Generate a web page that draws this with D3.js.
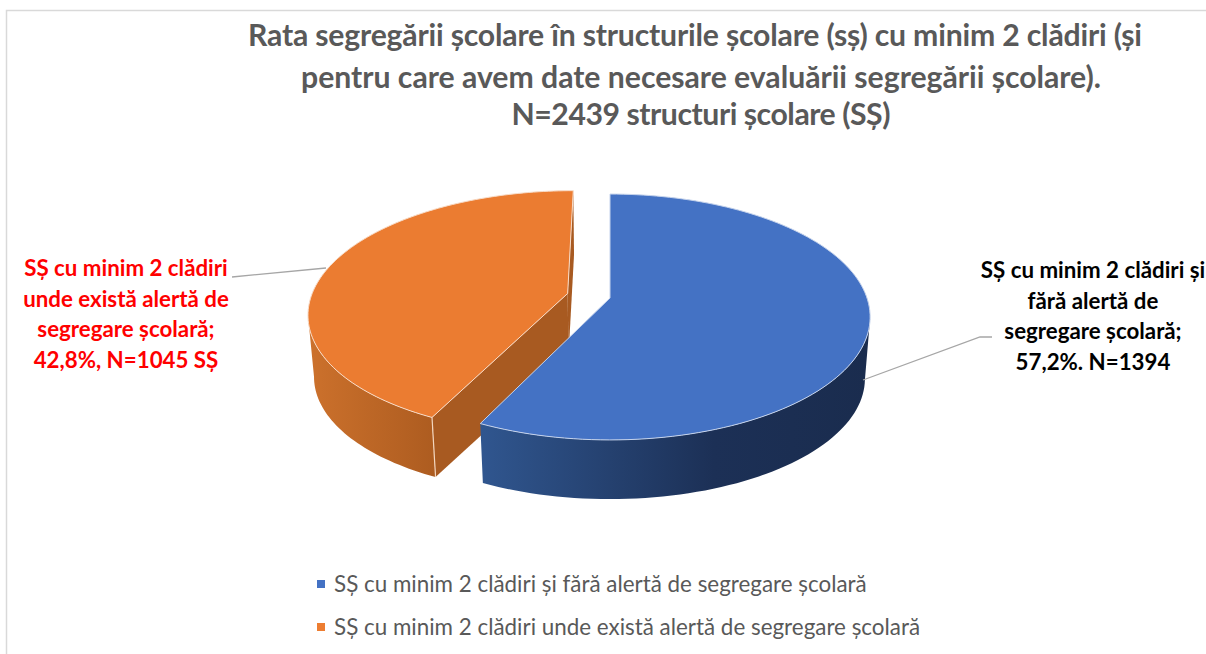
<!DOCTYPE html>
<html lang="ro">
<head>
<meta charset="UTF-8">
<title>Rata segregării școlare</title>
<script src="https://d3js.org/d3.v7.min.js"></script>
<style>
  body, html { margin: 0; padding: 0; width: 100%; height: 100%; overflow: hidden; background: #fff; }
  svg { display: block; }
  text { font-family: Lato, "Open Sans", sans-serif; }
  .title { font-size: 30.2px; font-weight: 700; fill: #595959; text-anchor: middle; }
  .label { font-size: 22.3px; font-weight: 700; text-anchor: middle; }
  .legend { font-size: 22.4px; fill: #595959; }
</style>
</head>
<body>
<svg></svg>
<script>
const width = 1206, height = 654;

const categories = [
  "SȘ cu minim 2 clădiri și fără alertă de segregare școlară",
  "SȘ cu minim 2 clădiri unde există alertă de segregare școlară"
];
const counts = [1394, 1045];
const explode = [0, 0.17];
const topColors = ["#4472c4", "#eb7c31"];
const legendColors = ["#4472c4", "#ed7d31"];
const cutColors = ["#203864", "#a85a21"];
const wallStops = [
  [["0%", "#30568f"], ["60%", "#1c3056"], ["100%", "#1a2c4e"]],
  [["0%", "#cc712c"], ["100%", "#ad5c20"]]
];
const titleLines = [
  "Rata segregării școlare în structurile școlare (sș) cu minim 2 clădiri (și",
  "pentru care avem date necesare evaluării segregării școlare).",
  "N=2439 structuri școlare (SȘ)"
];
const titleWidths = [894, 800, 379];
const labelLines = [
  ["SȘ cu minim 2 clădiri și", "fără alertă de", "segregare școlară;", "57,2%. N=1394"],
  ["SȘ cu minim 2 clădiri", "unde există alertă de", "segregare școlară;", "42,8%, N=1045 SȘ"]
];

const svg = d3.select("svg").attr("width", width).attr("height", height);
const defs = svg.append("defs");

// chart frame, only left and top show in the crop
svg.append("path")
  .attr("d", "M6.5,654V10.5H1206")
  .attr("fill", "none")
  .attr("stroke", "#d9d9d9")
  .attr("stroke-width", 1.5);

svg.selectAll(".title").data(titleLines).enter().append("text")
  .attr("class", "title")
  .attr("x", (d, i) => i === 0 ? 695 : 701)
  .attr("y", (d, i) => [46, 88, 125][i])
  .attr("textLength", (d, i) => titleWidths[i])
  .attr("lengthAdjust", "spacing")
  .text(d => d);

// 3d pie: unit disc seen through a simple perspective
const cx = 610, cy = 298, rx = 257, ry = 120, persp = 0.1545, depth = 62, bottomScale = 0.98;

function project(u, v, isBottom) {
  const w = 1 - persp * v;
  const s = isBottom ? bottomScale : 1;
  return [cx + s * rx * u / w, cy + (isBottom ? depth : 0) + s * ry * v / w];
}

const pie = d3.pie().sort(null);
const slices = pie(counts).map((d, i) => {
  const mid = (d.startAngle + d.endAngle) / 2;
  return {
    start: d.startAngle,
    end: d.endAngle,
    du: explode[i] * Math.sin(mid),
    dv: -explode[i] * Math.cos(mid),
    index: i
  };
});

function rim(s, isBottom) {
  return d3.range(0, 121).map(k => {
    const a = s.start + (s.end - s.start) * k / 120;
    return project(Math.sin(a) + s.du, -Math.cos(a) + s.dv, isBottom);
  });
}
const apex = (s, isBottom) => project(s.du, s.dv, isBottom);
const line = d3.line();

wallStops.forEach((stops, i) => {
  const g = defs.append("linearGradient").attr("id", "wall" + i);
  stops.forEach(st => g.append("stop").attr("offset", st[0]).attr("stop-color", st[1]));
});

// far slice first so the blue one sits over it
[1, 0].forEach(i => {
  const s = slices[i];
  const top = rim(s, false), bottom = rim(s, true);
  const g = svg.append("g");

  if (i === 1) {
    // the two cut faces of the pulled out slice
    g.append("path")
      .attr("d", line([top[top.length - 1], apex(s, false), apex(s, true), bottom[bottom.length - 1]]) + "Z")
      .attr("fill", cutColors[i]);
    g.append("path")
      .attr("d", line([top[0], apex(s, false), apex(s, true), bottom[0]]) + "Z")
      .attr("fill", cutColors[i]);
  }

  // front of the rim, cut where the outline turns so the side edge is the tangent
  const turn = i === 0 ? d3.greatestIndex(top, p => p[0]) : d3.leastIndex(top, p => p[0]);
  const from = i === 0 ? turn : 0;
  const to = i === 0 ? top.length : turn + 1;
  const frontTop = top.slice(from, to), frontBottom = bottom.slice(from, to);
  g.append("path")
    .attr("d", line(frontTop.concat(frontBottom.reverse())) + "Z")
    .attr("fill", `url(#wall${i})`);

  if (i === 1) {
    g.append("path")
      .attr("d", line([top[0], bottom[0]]))
      .attr("stroke", "#f3d6bf").attr("stroke-width", 1.2).attr("fill", "none");
  }

  g.append("path")
    .attr("d", line(top.concat([apex(s, false)])) + "Z")
    .attr("fill", topColors[i])
    .attr("stroke", i === 0 ? "#c5d3ec" : "#f8dcc8")
    .attr("stroke-width", 1);
});

// leader lines
const leaders = [
  [[863, 380], [980, 337], [992, 337]],
  [[232, 277], [326, 268]]
];
svg.selectAll(".leader").data(leaders).enter().append("path")
  .attr("class", "leader")
  .attr("d", d => line(d))
  .attr("fill", "none")
  .attr("stroke", "#a6a6a6")
  .attr("stroke-width", 1.3);

// data labels
const labelX = [1093, 126], labelY = [278, 276], labelColor = ["#000000", "#ff0000"];
labelLines.forEach((lines, i) => {
  svg.selectAll(".label" + i).data(lines).enter().append("text")
    .attr("class", "label label" + i)
    .attr("x", labelX[i])
    .attr("y", (d, k) => labelY[i] + k * 30.5)
    .attr("fill", labelColor[i])
    .text(d => d);
});

// legend
const legendY = [585, 628];
categories.forEach((c, i) => {
  svg.append("rect")
    .attr("x", 317).attr("y", legendY[i] - 5)
    .attr("width", 8).attr("height", 8)
    .attr("fill", legendColors[i]);
  svg.append("text")
    .attr("class", "legend")
    .attr("x", 334).attr("y", legendY[i] + 7)
    .text(c);
});
</script>
</body>
</html>
